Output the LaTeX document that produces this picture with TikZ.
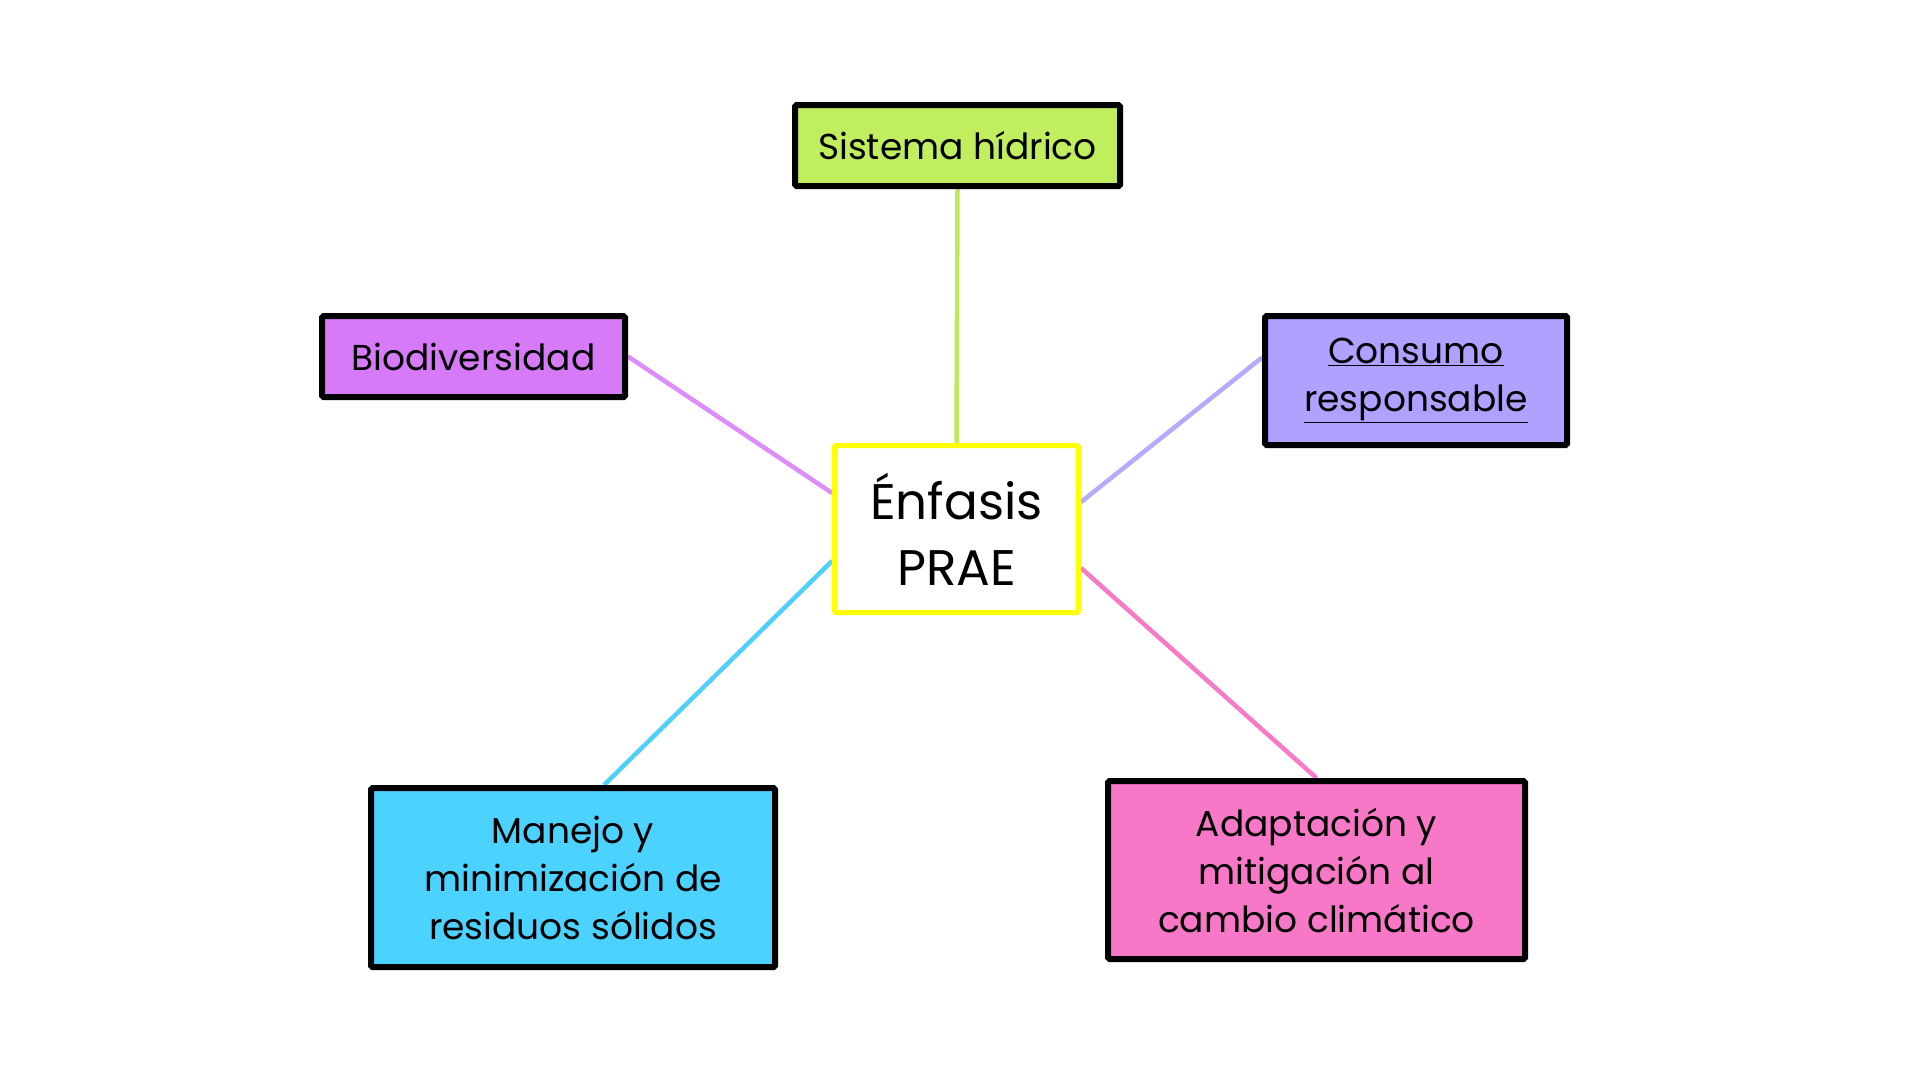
\documentclass[tikz,border=0pt]{standalone}
\usepackage{fontspec}
\setmainfont{Poppins}
\usetikzlibrary{calc,backgrounds}
\definecolor{cgreen}{RGB}{192,238,94}
\definecolor{cpurple}{RGB}{214,122,248}
\definecolor{clav}{RGB}{176,160,255}
\definecolor{ccyan}{RGB}{76,210,255}
\definecolor{cpink}{RGB}{248,120,200}
\definecolor{lgreen}{RGB}{192,232,92}
\definecolor{lpurple}{RGB}{222,140,250}
\definecolor{llav}{RGB}{182,170,255}
\definecolor{lcyan}{RGB}{80,208,248}
\definecolor{lpink}{RGB}{248,122,198}
\definecolor{cyel}{RGB}{255,255,0}
\newcommand{\ul}[1]{\underline{#1}}
\tikzset{
  leaf/.style={draw=black, line width=6pt, rounded corners=1.5pt, align=center, inner sep=0pt,
    font=\fontsize{36}{48}\selectfont, text=black},
  hub/.style={draw=cyel, line width=5pt, fill=white, rounded corners=1.5pt, align=center, inner sep=0pt,
    font=\fontsize{50}{66}\selectfont, text=black},
  link/.style={line width=4.5pt}
}
\begin{document}
\begin{tikzpicture}[x=1pt,y=-1pt]
\useasboundingbox (0,0) rectangle (1920,1072);
\node[hub, minimum width=244, minimum height=167] (c) at (956.5,529) {Énfasis\\PRAE};
\node[leaf, fill=cgreen, minimum width=325, minimum height=81] (s) at (957.5,145.5) {Sistema hídrico};
\node[leaf, fill=cpurple, minimum width=303, minimum height=81] (b) at (473.5,356.5) {Biodiversidad};
\node[leaf, fill=clav, minimum width=302, minimum height=129] (r) at (1416,380.5) {\ul{Consumo}\\\ul{responsable}};
\node[leaf, fill=ccyan, minimum width=404, minimum height=179] (m) at (573,877.5) {Manejo y\\minimización de\\residuos sólidos};
\node[leaf, fill=cpink, minimum width=417, minimum height=178] (a) at (1316.5,870) {Adaptación y\\mitigación al\\cambio climático};
\begin{scope}[on background layer]
\fill[white] (0,0) rectangle (1920,1072);
\draw[link, lgreen] (s.south) -- (c.north);
\draw[link, lpurple] (b.east) -- ($(c.west)+(0,-36)$);
\draw[link, llav] ($(r.west)+(0,-23)$) -- ($(c.east)+(0,-27)$);
\draw[link, lcyan] ($(c.west)+(0,32)$) -- ($(m.north)+(31,0)$);
\draw[link, lpink] ($(c.east)+(0,39)$) -- (a.north);
\end{scope}
\end{tikzpicture}
\end{document}
